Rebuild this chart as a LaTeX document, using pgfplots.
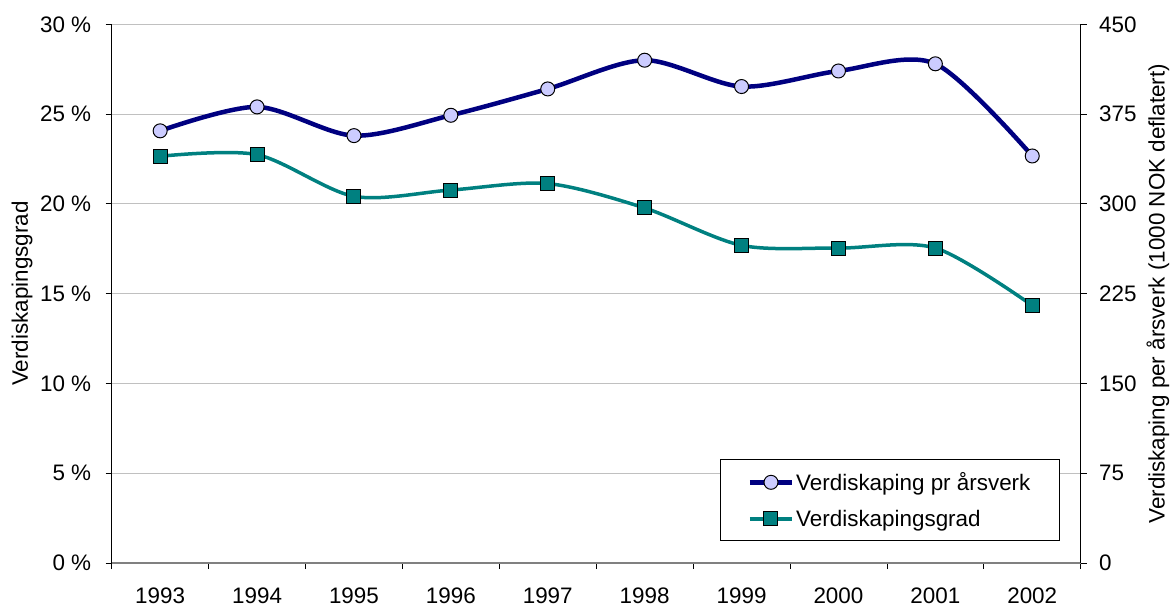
\documentclass[border=0pt]{standalone}
\usepackage{pgfplots}
\pgfplotsset{compat=1.18}
\usepackage{fontspec}
\setmainfont{Liberation Sans}
\definecolor{navyline}{HTML}{000080}
\definecolor{lav}{HTML}{CCCCFF}
\definecolor{tealc}{HTML}{008080}
\definecolor{gridc}{HTML}{C0C0C0}
\begin{document}
\begin{tikzpicture}
\useasboundingbox (-111.7bp,-43bp) rectangle (1059.3bp,563bp);
\pgfplotsset{common/.style={scale only axis, width=969bp, height=538.7bp,
  xmin=-0.5, xmax=9.5, tick align=outside, major tick length=6bp,
  every tick/.style={black, line width=0.8bp},
  /pgf/number format/assume math mode=true,
  tick label style={font=\fontsize{22.5}{26}\selectfont},
  label style={font=\fontsize{22.5}{26}\selectfont},
  legend image code/.code={\draw[mark repeat=2,mark phase=2,##1] plot coordinates {(0bp,0bp)(21bp,0bp)(42bp,0bp)};}
}}
\begin{axis}[common,
  axis x line*=bottom, axis y line*=left,
  x axis line style={draw=gray, line width=1.5bp},
  y axis line style={draw=black, line width=1bp},
  ymin=0, ymax=30, ytick={0,5,...,30},
  yticklabel={\pgfmathprintnumber{\tick} \%},
  yticklabel style={xshift=-11bp},
  ymajorgrids, grid style={gridc, line width=1bp},
  xtick={-0.5,0.5,...,9.5}, x tick label as interval,
  xticklabels={1993,1994,1995,1996,1997,1998,1999,2000,2001,2002},
  xticklabel style={yshift=-15bp},
  ylabel={Verdiskapingsgrad},
  ylabel style={at={(axis description cs:-0.0926,0.5)}, anchor=center},
]
\addplot[tealc, line width=3.5bp, smooth, mark=square*, mark size=7bp,
  mark options={fill=tealc, draw=black, line width=1bp}]
  coordinates {(0,22.65) (1,22.74) (2,20.42) (3,20.77) (4,21.13) (5,19.77) (6,17.69) (7,17.54) (8,17.54) (9,14.34)};
\end{axis}
\begin{axis}[common,
  axis y line*=right, axis x line=none,
  y axis line style={draw=black, line width=1bp},
  ymin=0, ymax=450, ytick={0,75,...,450},
  yticklabel style={xshift=9bp},
  ylabel={Verdiskaping per årsverk (1000 NOK deflatert)},
  ylabel style={at={(axis description cs:1.0798,0.5)}, anchor=center},
  legend cell align=left,
  legend style={at={(0.628,0.193)}, anchor=north west, draw=black, line width=1bp,
    font=\fontsize{22.5}{26}\selectfont, inner xsep=27bp, inner ysep=11bp, row sep=14bp,
    nodes={inner sep=2bp}},
]
\addplot[navyline, line width=4.5bp, smooth, mark=*, mark size=7bp,
  mark options={fill=lav, draw=black, line width=1bp}]
  coordinates {(0,361) (1,381) (2,357) (3,374) (4,396) (5,420) (6,398) (7,411) (8,417) (9,340)};
\addlegendentry{Verdiskaping pr årsverk}
\addlegendimage{tealc, line width=3.5bp, mark=square*, mark size=7bp,
  mark options={fill=tealc, draw=black, line width=1bp}}
\addlegendentry{Verdiskapingsgrad}
\end{axis}
\end{tikzpicture}
\end{document}
